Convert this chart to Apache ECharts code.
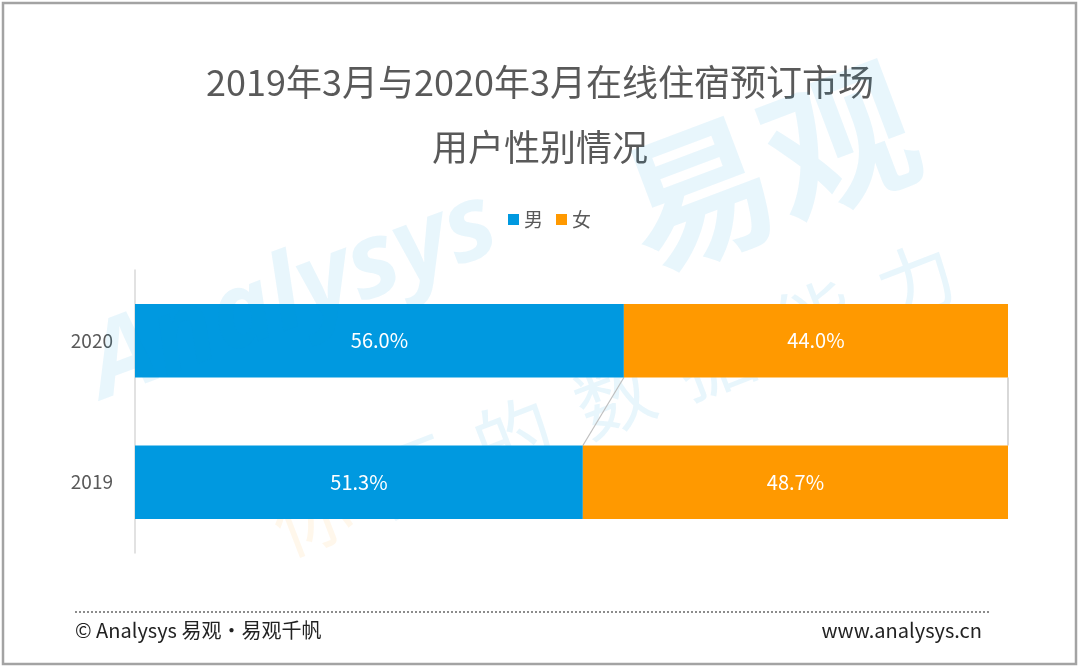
<!DOCTYPE html>
<html lang="zh">
<head>
<meta charset="utf-8">
<title>用户性别情况</title>
<style>
  * { padding: 0; margin: 0; }
  html, body, #chart { width: 1080px; height: 668px; background: #fff; }
</style>
</head>
<body>
<div id="chart"></div>
<script src="https://cdn.jsdelivr.net/npm/echarts@6/dist/echarts.min.js"></script>
<script>
// 数据
var years = ['2019', '2020'];
var male = [51.3, 56.0];
var female = [48.7, 44.0];

var BLUE = '#0099E0';
var ORANGE = '#FF9900';
var FONT = '"Noto Sans CJK SC", "Noto Sans", sans-serif';
var BAR_RATIO = 0.52;
var WM = 'rgba(0,153,224,0.09)';

var chart = echarts.init(document.getElementById('chart'));

// 系列线：连接两年堆叠的分界位置
var joins = [
  [male[1], male[0]],
  [male[1] + female[1], male[0] + female[0]]
];

// 水印文字
var slogan = '你要的数据能力'.split('');
var sloganChildren = slogan.map(function (ch, i) {
  return {
    type: 'text',
    x: i * 108,
    y: 0,
    style: {
      text: ch,
      font: '78px "Noto Sans CJK SC", sans-serif',
      fill: i === 0 ? 'rgba(255,153,0,0.08)' : WM,
      textAlign: 'center',
      textVerticalAlign: 'middle'
    }
  };
});

var option = {
  backgroundColor: '#fff',
  textStyle: { fontFamily: FONT },
  title: {
    text: '2019年3月与2020年3月在线住宿预订市场\n用户性别情况',
    left: 'center',
    top: 45,
    textStyle: {
      color: '#595959',
      fontSize: 36,
      fontWeight: 'normal',
      lineHeight: 65,
      fontFamily: FONT
    }
  },
  legend: {
    data: ['男', '女'],
    top: 205,
    left: 503,
    itemWidth: 11,
    itemHeight: 11,
    itemGap: 13,
    icon: 'rect',
    textStyle: { color: '#595959', fontSize: 19, fontFamily: FONT }
  },
  grid: { left: 135, right: 72, top: 270, bottom: 115 },
  xAxis: {
    type: 'value',
    min: 0,
    max: 100,
    show: false
  },
  yAxis: {
    type: 'category',
    data: years,
    axisLine: { lineStyle: { color: '#d9d9d9', width: 1.5 } },
    axisTick: { show: false },
    axisLabel: { color: '#595959', fontSize: 19, margin: 22, fontFamily: FONT }
  },
  series: [
    {
      name: '男',
      type: 'bar',
      stack: 'total',
      barWidth: (BAR_RATIO * 100) + '%',
      data: male,
      itemStyle: { color: BLUE },
      label: {
        show: true,
        position: 'inside',
        color: '#fff',
        fontSize: 20,
        fontFamily: FONT,
        formatter: function (p) { return p.value.toFixed(1) + '%'; }
      }
    },
    {
      name: '女',
      type: 'bar',
      stack: 'total',
      data: female,
      itemStyle: { color: ORANGE },
      label: {
        show: true,
        position: 'inside',
        color: '#fff',
        fontSize: 20,
        fontFamily: FONT,
        formatter: function (p) { return p.value.toFixed(1) + '%'; }
      }
    },
    {
      type: 'custom',
      silent: true,
      encode: { x: [0, 1] },
      data: joins,
      renderItem: function (params, api) {
        var top = api.coord([api.value(0), 1]);
        var bot = api.coord([api.value(1), 0]);
        var half = api.size([0, 1])[1] * BAR_RATIO / 2;
        return {
          type: 'line',
          shape: { x1: top[0], y1: top[1] + half, x2: bot[0], y2: bot[1] - half },
          style: { stroke: '#bfbfbf', lineWidth: 1.2 }
        };
      }
    }
  ],
  graphic: [
    // 水印
    {
      type: 'text',
      silent: true,
      z: 100,
      x: 112, y: 420,
      rotation: 0.36,
      style: {
        text: 'Analysys',
        font: 'italic bold 104px "Open Sans", sans-serif',
        fill: WM,
        textVerticalAlign: 'bottom'
      }
    },
    {
      type: 'text',
      silent: true,
      z: 100,
      x: 655, y: 290,
      rotation: 0.36,
      style: {
        text: '易观',
        font: 'bold 150px "Noto Sans CJK SC", sans-serif',
        fill: WM,
        textVerticalAlign: 'bottom'
      }
    },
    {
      type: 'group',
      silent: true,
      z: 100,
      x: 312, y: 515,
      rotation: 0.37,
      children: sloganChildren
    },
    // 外框
    {
      type: 'rect',
      silent: true,
      shape: { x: 3, y: 3, width: 1073, height: 661 },
      style: { fill: 'none', stroke: '#a3a3a3', lineWidth: 2.5 }
    },
    // 底部虚线
    {
      type: 'line',
      silent: true,
      shape: { x1: 75, y1: 612, x2: 990, y2: 612 },
      style: { stroke: '#8c8c8c', lineWidth: 2, lineDash: [2, 2] }
    },
    {
      type: 'text',
      left: 75,
      top: 620,
      style: {
        text: '© Analysys 易观·易观千帆',
        font: '20px "Noto Sans CJK SC", sans-serif',
        fill: '#222'
      }
    },
    {
      type: 'text',
      right: 98,
      top: 620,
      style: {
        text: 'www.analysys.cn',
        font: '20px "Noto Sans CJK SC", sans-serif',
        fill: '#222'
      }
    }
  ]
};

chart.setOption(option);
</script>
</body>
</html>
